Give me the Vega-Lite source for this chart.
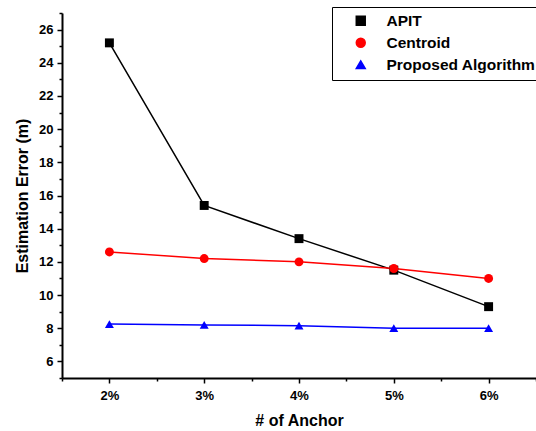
{
  "$schema": "https://vega.github.io/schema/vega-lite/v6.json",
  "width": 474,
  "height": 365,
  "autosize": {"type": "none"},
  "padding": {"left": 62, "top": 13, "right": 0, "bottom": 53},
  "background": "white",
  "config": {
    "view": {"stroke": null},
    "font": "Liberation Sans",
    "axis": {
      "domainColor": "black", "domainWidth": 2, "tickColor": "black", "tickWidth": 1.5,
      "labelColor": "black", "labelFont": "Liberation Sans", "labelFontWeight": "bold", "labelFontSize": 13,
      "titleColor": "black", "titleFont": "Liberation Sans", "titleFontWeight": "bold", "titleFontSize": 16,
      "grid": false
    }
  },
  "data": {
    "values": [
      {"x": 2, "series": "APIT", "y": 25.2},
      {"x": 3, "series": "APIT", "y": 15.4},
      {"x": 4, "series": "APIT", "y": 13.4},
      {"x": 5, "series": "APIT", "y": 11.5},
      {"x": 6, "series": "APIT", "y": 9.3},
      {"x": 2, "series": "Centroid", "y": 12.6},
      {"x": 3, "series": "Centroid", "y": 12.2},
      {"x": 4, "series": "Centroid", "y": 12.0},
      {"x": 5, "series": "Centroid", "y": 11.6},
      {"x": 6, "series": "Centroid", "y": 11.0},
      {"x": 2, "series": "Proposed Algorithm", "y": 8.25},
      {"x": 3, "series": "Proposed Algorithm", "y": 8.2},
      {"x": 4, "series": "Proposed Algorithm", "y": 8.15},
      {"x": 5, "series": "Proposed Algorithm", "y": 8.0},
      {"x": 6, "series": "Proposed Algorithm", "y": 8.0}
    ]
  },
  "resolve": {"axis": {"x": "independent", "y": "independent"}},
  "layer": [
    {
      "mark": {"type": "line", "strokeWidth": 1.5},
      "encoding": {
        "x": {"field": "x", "type": "quantitative", "scale": {"domain": [1.5, 6.5], "nice": false, "zero": false},
          "axis": {"orient": "bottom", "values": [2, 3, 4, 5, 6], "labelExpr": "datum.value + '%'", "title": "# of Anchor", "tickSize": 5, "labelPadding": 6, "titlePadding": 10}},
        "y": {"field": "y", "type": "quantitative", "scale": {"domain": [5, 27], "nice": false, "zero": false},
          "axis": {"orient": "left", "values": [6, 8, 10, 12, 14, 16, 18, 20, 22, 24, 26], "title": "Estimation Error (m)", "tickSize": 5, "labelPadding": 4, "titlePadding": 8}},
        "color": {"field": "series", "type": "nominal",
          "scale": {"domain": ["APIT", "Centroid", "Proposed Algorithm"], "range": ["#000000", "#ff0000", "#0000ff"]}}
      }
    },
    {
      "mark": {"type": "rule", "opacity": 0},
      "encoding": {
        "x": {"field": "x", "type": "quantitative", "axis": {"orient": "bottom", "values": [1.5, 2.5, 3.5, 4.5, 5.5, 6.5], "labels": false, "title": null, "tickSize": 3, "domain": false}},
        "y": {"field": "y", "type": "quantitative", "axis": {"orient": "left", "values": [5, 7, 9, 11, 13, 15, 17, 19, 21, 23, 25, 27], "labels": false, "title": null, "tickSize": 3, "domain": false}}
      }
    },
    {
      "mark": {"type": "point", "filled": true, "opacity": 1, "size": 80},
      "encoding": {
        "x": {"field": "x", "type": "quantitative", "axis": null},
        "y": {"field": "y", "type": "quantitative", "axis": null},
        "color": {"field": "series", "type": "nominal", "title": null,
          "legend": {
            "orient": "none", "legendX": 270, "legendY": -6,
            "strokeColor": "black", "padding": 6, "symbolSize": 80, "symbolStrokeWidth": 1.5,
            "symbolOffset": 15,
            "labelFont": "Liberation Sans", "labelFontWeight": "bold", "labelFontSize": 15.5, "labelColor": "black",
            "labelOffset": 18, "rowPadding": 5
          }},
        "shape": {"field": "series", "type": "nominal", "legend": null,
          "scale": {"domain": ["APIT", "Centroid", "Proposed Algorithm"], "range": ["square", "circle", "triangle-up"]}}
      }
    }
  ]
}
